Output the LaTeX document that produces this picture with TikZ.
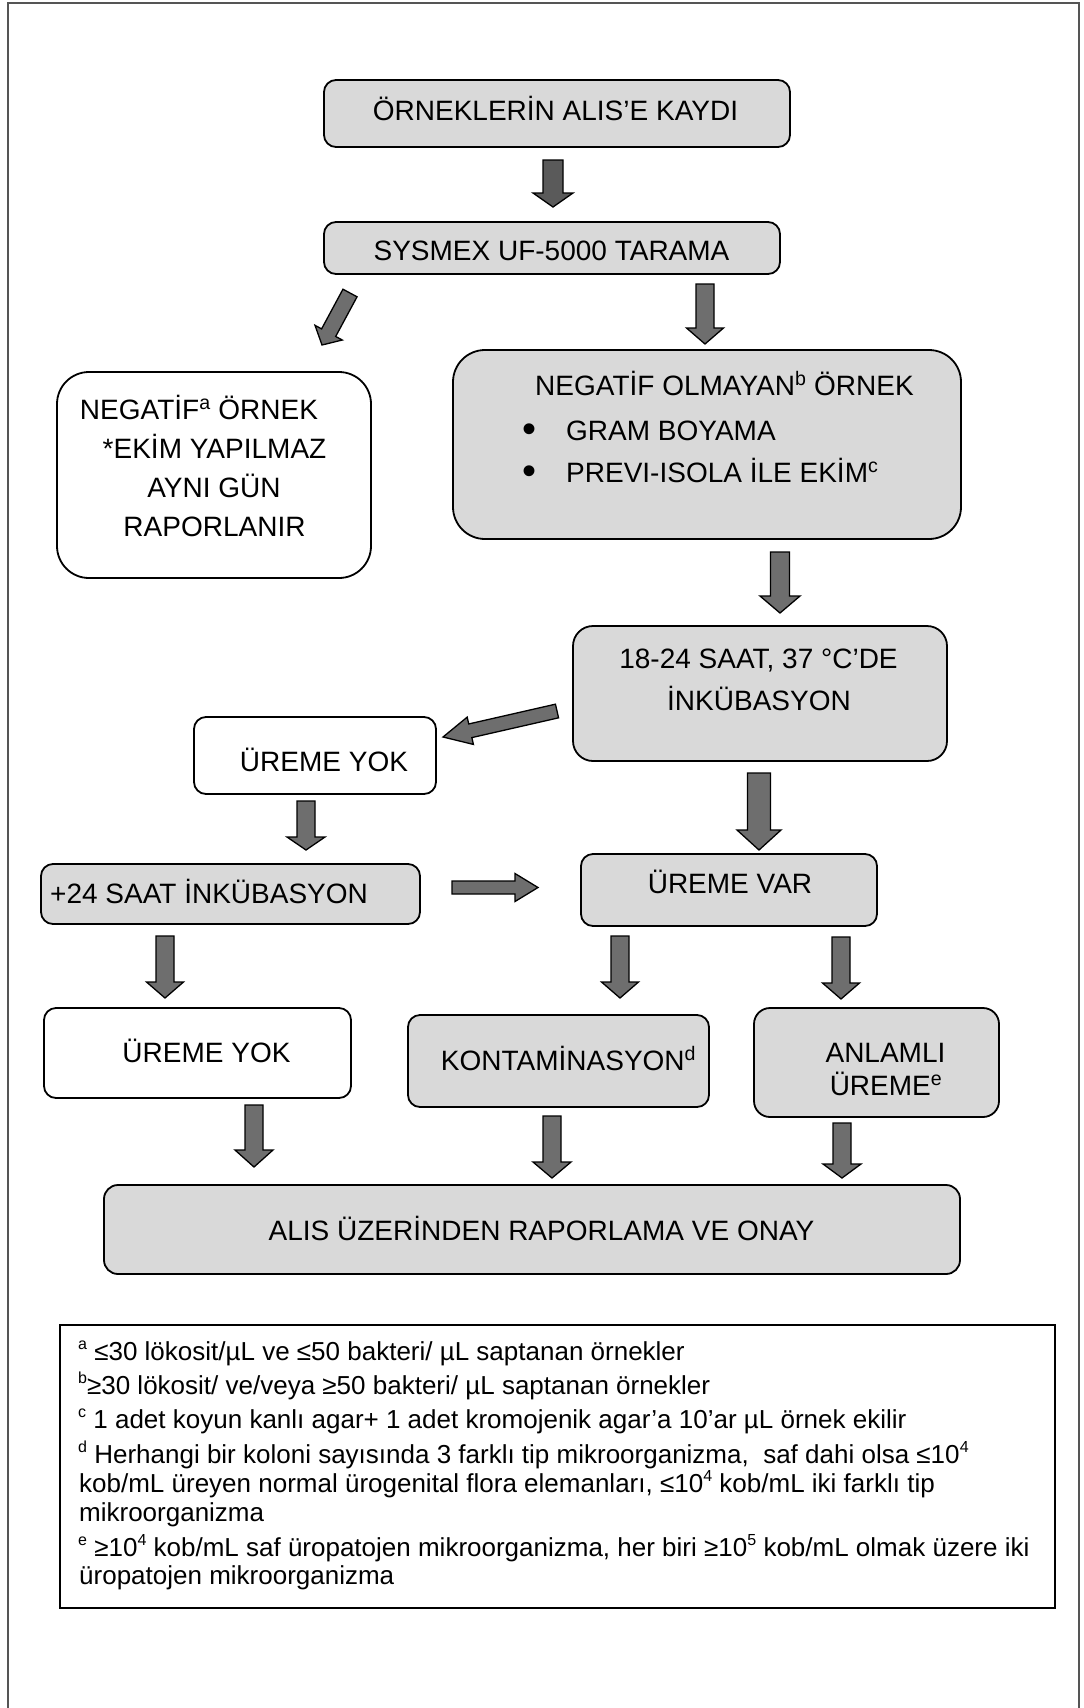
\documentclass[tikz,border=0pt]{standalone}
\usepackage{fontspec}
\setmainfont{Liberation Sans}
\usetikzlibrary{calc}
\definecolor{boxgray}{HTML}{D9D9D9}
\definecolor{arrdark}{HTML}{5A5A5A}
\definecolor{arrgray}{HTML}{6E6E6E}
\definecolor{framegray}{HTML}{555555}

% block arrow: #1 fill, #2 start coord, #3 end coord, #4 shaft half width, #5 head half width, #6 head length
\newcommand\blockarrow[6]{%
  \path let \p1=(#2), \p2=(#3),
    \n1={atan2(\y2-\y1,\x2-\x1)},
    \n2={veclen(\x2-\x1,\y2-\y1)} in
    \pgfextra{\xdef\baAng{\n1}\xdef\baLen{\n2}};
  \begin{scope}[shift={(#2)}, rotate=\baAng]
    \draw[line width=1.3pt, fill=#1, line join=miter]
      (0,#4) -- ({\baLen-#6},#4) -- ({\baLen-#6},#5) -- (\baLen,0)
      -- ({\baLen-#6},-#5) -- ({\baLen-#6},-#4) -- (0,-#4) -- cycle;
  \end{scope}}
\newcommand\fsup[1]{\raisebox{0.42em}{\fontsize{16}{16}\selectfont #1}}

\begin{document}
\begin{tikzpicture}[x=1pt,y=-1pt,
  box/.style={draw=black, line width=1.8pt, fill=boxgray, rounded corners=12pt, inner sep=0pt},
  wbox/.style={box, fill=white},
  txt/.style={font=\fontsize{28}{32}\selectfont, anchor=base, inner sep=0pt},
  ltxt/.style={txt, anchor=base west},
  bullettxt/.style={font=\fontsize{40}{40}\selectfont, anchor=center, inner sep=0pt},
  ftxt/.style={font=\fontsize{26}{30}\selectfont, anchor=base west, inner sep=0pt}]

\useasboundingbox (0,0) rectangle (1084,1708);
\fill[white] (0,0) rectangle (1084,1708);

% outer frame
\draw[framegray, line width=2pt] (8,1708) -- (8,2.5) -- (1079,2.5) -- (1079,1708);

% boxes
\node[box, minimum width=466pt, minimum height=67pt] (b1) at (557,113.5) {};
\node[box, minimum width=456pt, minimum height=52pt] (b2) at (552,248) {};
\node[wbox, rounded corners=32pt, minimum width=314pt, minimum height=206pt] (neg) at (214,475) {};
\node[box, rounded corners=32pt, minimum width=508pt, minimum height=189pt] (nonneg) at (707,444.5) {};
\node[box, rounded corners=20pt, minimum width=374pt, minimum height=135pt] (inc) at (760,693.5) {};
\node[wbox, minimum width=242pt, minimum height=77pt] (uy1) at (315,755.5) {};
\node[box, minimum width=379pt, minimum height=60pt] (p24) at (230.5,894) {};
\node[box, minimum width=296pt, minimum height=72pt] (var) at (729,890) {};
\node[wbox, minimum width=307pt, minimum height=90pt] (uy2) at (197.5,1053) {};
\node[box, minimum width=301pt, minimum height=92pt] (kont) at (558.5,1061) {};
\node[box, rounded corners=16pt, minimum width=245pt, minimum height=109pt] (anl) at (876.5,1062.5) {};
\node[box, rounded corners=14pt, minimum width=856pt, minimum height=89pt] (fin) at (532,1229.5) {};

% texts in boxes
\node[txt] (t1) at (555.5,120) {ÖRNEKLERİN ALIS’E KAYDI};
\node[txt] (t2) at (551.5,260) {SYSMEX UF-5000 TARAMA};
\node[txt] (tneg1) at (199,419) {NEGATİF\textsuperscript{a} ÖRNEK};
\node[txt] (tneg2) at (214.5,458) {*EKİM YAPILMAZ};
\node[txt] (tneg3) at (214,497) {AYNI GÜN};
\node[txt] (tneg4) at (214.5,536) {RAPORLANIR};
\node[txt] (tnn1) at (724.5,395) {NEGATİF OLMAYAN\textsuperscript{b} ÖRNEK};
\node[bullettxt] (bul1) at (529,433) {•};
\node[ltxt] (tnn2) at (566,440) {GRAM BOYAMA};
\node[bullettxt] (bul2) at (529,475) {•};
\node[ltxt] (tnn3) at (566,482) {PREVI-ISOLA İLE EKİM\textsuperscript{c}};
\node[txt] (tinc1) at (758.5,668) {18-24 SAAT, 37 °C’DE};
\node[txt] (tinc2) at (759,710) {İNKÜBASYON};
\node[txt] (tuy1) at (324,771) {ÜREME YOK};
\node[ltxt] (tp24) at (50,903) {+24 SAAT İNKÜBASYON};
\node[txt] (tvar) at (730,893) {ÜREME VAR};
\node[txt] (tuy2) at (206.5,1062) {ÜREME YOK};
\node[txt] (tkont) at (568.5,1070) {KONTAMİNASYON\textsuperscript{d}};
\node[txt] (tanl1) at (885.5,1062) {ANLAMLI};
\node[txt] (tanl2) at (886,1095) {ÜREME\textsuperscript{e}};
\node[txt] (tfin) at (541.5,1240) {ALIS ÜZERİNDEN RAPORLAMA VE ONAY};

% arrow end points
\coordinate (a1s) at (553,160);   \coordinate (a1e) at (553,207);
\coordinate (a2s) at (350,293);   \coordinate (a2e) at (322,345);
\coordinate (a3s) at (705,284);   \coordinate (a3e) at (705,344);
\coordinate (a4s) at (780,552);   \coordinate (a4e) at (780,613);
\coordinate (a5s) at (557,711);   \coordinate (a5e) at (443,737);
\coordinate (a6s) at (306,801);   \coordinate (a6e) at (306,850);
\coordinate (a7s) at (759,773);   \coordinate (a7e) at (759,850);
\coordinate (a8s) at (452,887.5); \coordinate (a8e) at (538,887.5);
\coordinate (a9s) at (165,936);   \coordinate (a9e) at (165,998);
\coordinate (a10s) at (620,936);  \coordinate (a10e) at (620,998);
\coordinate (a11s) at (841,937);  \coordinate (a11e) at (841,999);
\coordinate (a12s) at (254,1105); \coordinate (a12e) at (254,1167);
\coordinate (a13s) at (552,1116); \coordinate (a13e) at (552,1178);
\coordinate (a14s) at (842,1123); \coordinate (a14e) at (842,1178);

\blockarrow{arrdark}{a1s}{a1e}{10}{20}{14}
\blockarrow{arrgray}{a2s}{a2e}{8}{15.5}{14}
\blockarrow{arrgray}{a3s}{a3e}{9}{18.5}{16}
\blockarrow{arrgray}{a4s}{a4e}{9.5}{20}{17}
\blockarrow{arrgray}{a5s}{a5e}{7}{14}{28}
\blockarrow{arrgray}{a6s}{a6e}{9}{19}{13}
\blockarrow{arrgray}{a7s}{a7e}{11.5}{22}{20}
\blockarrow{arrgray}{a8s}{a8e}{6.5}{14}{23}
\blockarrow{arrgray}{a9s}{a9e}{9}{18.5}{16}
\blockarrow{arrgray}{a10s}{a10e}{9}{18.5}{16}
\blockarrow{arrgray}{a11s}{a11e}{9}{18.5}{16}
\blockarrow{arrgray}{a12s}{a12e}{9}{19}{17}
\blockarrow{arrgray}{a13s}{a13e}{9}{19}{16}
\blockarrow{arrgray}{a14s}{a14e}{9}{19}{14}

% footnotes
\node[draw=black, line width=2pt, minimum width=995pt, minimum height=283pt, inner sep=0pt] (fn) at (557.5,1466.5) {};
\node[ftxt] (f1) at (78,1360) {\fsup{a} ≤30 lökosit/µL ve ≤50 bakteri/ µL saptanan örnekler};
\node[ftxt] (f2) at (78,1394) {\fsup{b}≥30 lökosit/ ve/veya ≥50 bakteri/ µL saptanan örnekler};
\node[ftxt] (f3) at (78,1428) {\fsup{c} 1 adet koyun kanlı agar+ 1 adet kromojenik agar’a 10’ar µL örnek ekilir};
\node[ftxt] (f4) at (78,1463) {\fsup{d} Herhangi bir koloni sayısında 3 farklı tip mikroorganizma,\ \ saf dahi olsa ≤10\fsup{4}};
\node[ftxt] (f5) at (79,1492) {kob/mL üreyen normal ürogenital flora elemanları, ≤10\fsup{4} kob/mL iki farklı tip};
\node[ftxt] (f6) at (79,1521) {mikroorganizma};
\node[ftxt] (f7) at (78,1556) {\fsup{e} ≥10\fsup{4} kob/mL saf üropatojen mikroorganizma, her biri ≥10\fsup{5} kob/mL olmak üzere iki};
\node[ftxt] (f8) at (79,1584) {üropatojen mikroorganizma};
\end{tikzpicture}
\end{document}
